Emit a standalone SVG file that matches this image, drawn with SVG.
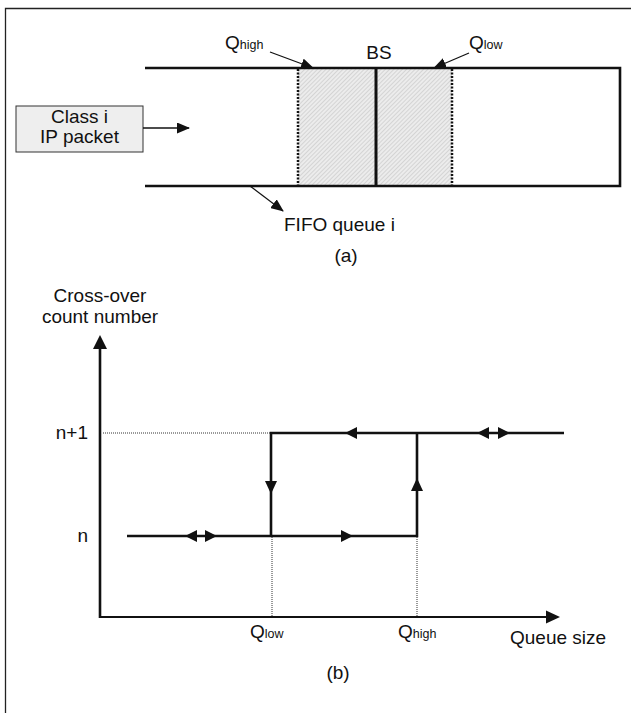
<svg xmlns="http://www.w3.org/2000/svg" width="631" height="713" viewBox="0 0 631 713">
<style>
text{font-family:"Liberation Sans",Arial,sans-serif;font-size:19px;fill:#111}
.sub{font-size:12.5px}
.thick{stroke:#111;stroke-width:2.6;fill:none}
.thin{stroke:#111;stroke-width:1.3;fill:none}
.dot{stroke:#333;stroke-width:1;stroke-dasharray:1 1;fill:none}
.ah{fill:#111}
</style>
<defs>
<pattern id="hatch" width="3" height="3" patternUnits="userSpaceOnUse" patternTransform="rotate(45)">
<rect width="3" height="3" fill="#ececec"/>
<line x1="0" y1="0" x2="0" y2="3" stroke="#bdbdbd" stroke-width="1"/>
</pattern>
<marker id="arr" markerWidth="13" markerHeight="11" refX="12" refY="5.5" orient="auto" markerUnits="userSpaceOnUse">
<path d="M0,0 L13,5.5 L0,11 Z" fill="#111"/>
</marker>
</defs>
<g id="frame">
<path d="M5.5,713 V8.5 H631" stroke="#222" stroke-width="1.3" fill="none"/>
</g>
<g id="queue">
<rect x="298" y="68" width="154" height="118" fill="url(#hatch)"/>
<path class="thick" d="M145,68 H620 V186 H145"/>
<line x1="376" y1="68" x2="376" y2="186" stroke="#111" stroke-width="3"/>
<line x1="298" y1="69" x2="298" y2="185" stroke="#111" stroke-width="2.5" stroke-dasharray="2 1.5"/>
<line x1="452" y1="69" x2="452" y2="185" stroke="#111" stroke-width="2.5" stroke-dasharray="2 1.5"/>
</g>
<g id="packet">
<rect x="16" y="106" width="127" height="46" fill="#eeeeee" stroke="#333" stroke-width="1"/>
<text x="79.5" y="123" text-anchor="middle">Class i</text>
<text x="79.5" y="143" text-anchor="middle">IP packet</text>
</g>
<g id="labels-a">
<text x="225" y="49">Q<tspan class="sub">high</tspan></text>
<text x="379" y="59" text-anchor="middle">BS</text>
<text x="469" y="49">Q<tspan class="sub">low</tspan></text>
<text x="284" y="231">FIFO queue i</text>
<text x="346" y="262" text-anchor="middle">(a)</text>
</g>
<g id="connectors-a">
<line class="thin" x1="143" y1="128" x2="189" y2="128" marker-end="url(#arr)"/>
<line class="thin" x1="270" y1="52" x2="313" y2="68" marker-end="url(#arr)"/>
<line class="thin" x1="469" y1="53" x2="434" y2="68" marker-end="url(#arr)"/>
<line class="thin" x1="250" y1="186" x2="283" y2="211" marker-end="url(#arr)"/>
</g>
<g id="axes">
<line class="thick" x1="100" y1="618" x2="100" y2="345"/>
<path class="ah" d="M100,335 L93,349 L107,349 Z"/>
<line x1="100" y1="617" x2="550" y2="617" stroke="#111" stroke-width="1.8"/>
<path class="ah" d="M560,617 L546,610.5 L546,623.5 Z"/>
</g>
<g id="guides">
<line class="dot" x1="103" y1="433" x2="271" y2="433"/>
<line class="dot" x1="272" y1="537" x2="272" y2="616"/>
<line class="dot" x1="417" y1="537" x2="417" y2="616"/>
</g>
<g id="hysteresis">
<path class="thick" d="M127,536 H417 V433"/>
<path class="thick" d="M564,433 H271 V536"/>
<path class="ah" d="M345,433 L357,427 L357,439 Z"/>
<path class="ah" d="M477,433 L489,427 L489,439 Z"/>
<path class="ah" d="M510,433 L498,427 L498,439 Z"/>
<path class="ah" d="M185,536 L197,530 L197,542 Z"/>
<path class="ah" d="M217,536 L205,530 L205,542 Z"/>
<path class="ah" d="M353,536 L341,530 L341,542 Z"/>
<path class="ah" d="M271,494 L265,481 L277,481 Z"/>
<path class="ah" d="M417,478 L411,491 L423,491 Z"/>
</g>
<g id="labels-b">
<text x="100" y="302" text-anchor="middle">Cross-over</text>
<text x="100" y="323" text-anchor="middle">count number</text>
<text x="88" y="439" text-anchor="end">n+1</text>
<text x="88" y="542" text-anchor="end">n</text>
<text x="250" y="638">Q<tspan class="sub">low</tspan></text>
<text x="398" y="638">Q<tspan class="sub">high</tspan></text>
<text x="510" y="644">Queue size</text>
<text x="338" y="679" text-anchor="middle">(b)</text>
</g>
</svg>
